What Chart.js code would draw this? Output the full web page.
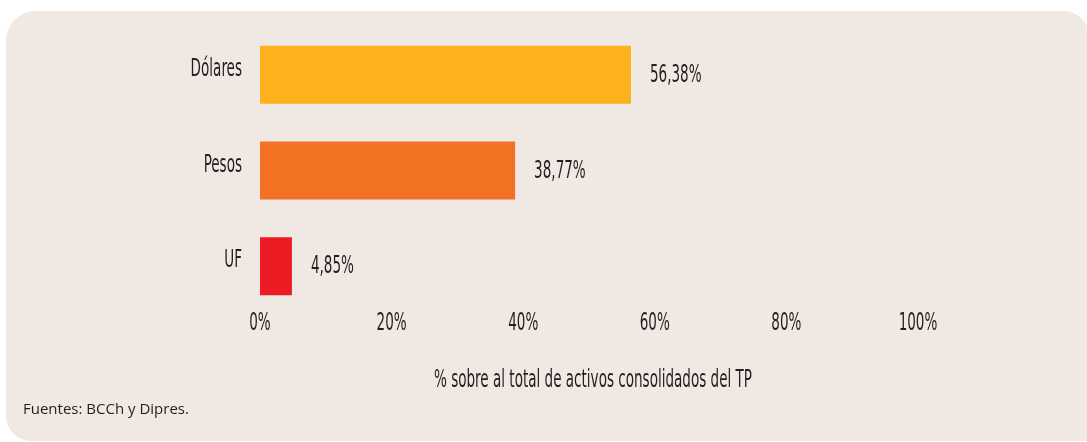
<!DOCTYPE html>
<html>
<head>
<meta charset="utf-8">
<script src="https://cdn.jsdelivr.net/npm/chart.js@4"></script>
<style>
  html, body { margin: 0; padding: 0; background: #ffffff; }
  #wrap { position: relative; width: 1087px; height: 442px; overflow: hidden; }
  #panel {
    position: absolute; left: 6px; top: 11px; width: 1083px; height: 430px;
    background: #f0e9e3; border-radius: 30px 25px 0 25px;
  }
  #chart { position: absolute; left: 0; top: 0; }
</style>
</head>
<body>
<div id="wrap">
  <div id="panel"></div>
  <canvas id="chart" width="1087" height="442"></canvas>
</div>
<script>
// data
const categories = ['Dólares', 'Pesos', 'UF'];
const shares = [56.38, 38.77, 4.85];
const barColors = ['#fdb11c', '#f37123', '#ed1c24'];
const tickValues = [0, 20, 40, 60, 80, 100];
const tickLabels = ['0%', '20%', '40%', '60%', '80%', '100%'];
const axisTitle = '% sobre al total de activos consolidados del TP';
const sourceNote = 'Fuentes: BCCh y Dipres.';

const TEXT = '#231f20';
const CONDENSED = '24px "Liberation Sans Narrow", "DejaVu Sans Condensed", sans-serif';

// the original uses a very narrow face, so squeeze text horizontally
let squeeze = 0.75;

function narrowText(ctx, text, x, y, align) {
  ctx.save();
  ctx.font = CONDENSED;
  ctx.fillStyle = TEXT;
  ctx.textBaseline = 'middle';
  ctx.textAlign = align;
  ctx.translate(x, y);
  ctx.scale(squeeze, 1);
  ctx.fillText(text, 0, 0);
  ctx.restore();
}

const labelsPlugin = {
  id: 'labels',
  afterDraw(chart) {
    const ctx = chart.ctx;
    const area = chart.chartArea;
    const x = chart.scales.x;
    const y = chart.scales.y;

    ctx.save();
    ctx.font = CONDENSED;
    squeeze = 318 / ctx.measureText(axisTitle).width;
    ctx.restore();

    // category names
    categories.forEach((c, i) => {
      narrowText(ctx, c, area.left - 18, y.getPixelForValue(i) - 5, 'right');
    });

    // value labels after each bar
    chart.getDatasetMeta(0).data.forEach((bar, i) => {
      const txt = shares[i].toFixed(2).replace('.', ',') + '%';
      narrowText(ctx, txt, bar.x + 19, bar.y + 1, 'left');
    });

    // x axis tick labels
    tickValues.forEach((v, i) => {
      narrowText(ctx, tickLabels[i], x.getPixelForValue(v), area.bottom + 10, 'center');
    });

    // axis title
    narrowText(ctx, axisTitle, (area.left + area.right) / 2 + 4, area.bottom + 67, 'center');

    // source
    ctx.save();
    ctx.font = '15px "Open Sans", "Noto Sans", sans-serif';
    ctx.fillStyle = TEXT;
    ctx.textBaseline = 'middle';
    ctx.textAlign = 'left';
    ctx.fillText(sourceNote, 23, 410);
    ctx.restore();
  }
};

const config = {
  type: 'bar',
  data: {
    labels: categories,
    datasets: [
      {
        data: shares,
        backgroundColor: barColors,
        borderWidth: 0,
        barPercentage: 0.606,
        categoryPercentage: 1,
      }
    ],
  },
  options: {
    indexAxis: 'y',
    responsive: false,
    animation: false,
    layout: {
      padding: { left: 260, right: 169, top: 27, bottom: 128 },
    },
    scales: {
      x: { display: false, min: 0, max: 100 },
      y: { display: false },
    },
    plugins: {
      legend: { display: false },
      title: { display: false },
      tooltip: { enabled: false },
    },
  },
  plugins: [labelsPlugin],
};

new Chart(document.getElementById('chart'), config);
</script>
</body>
</html>
